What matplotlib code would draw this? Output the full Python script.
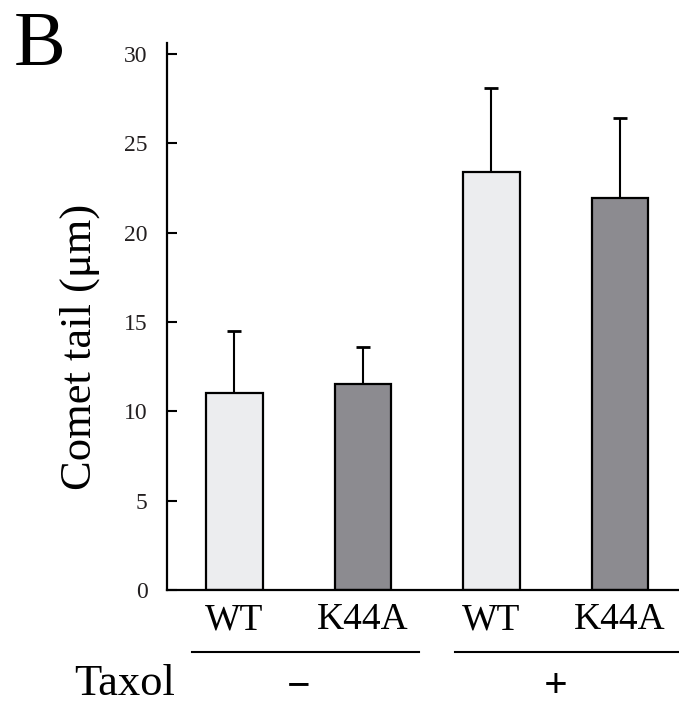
import matplotlib
matplotlib.use('Agg')
import matplotlib.pyplot as plt
import matplotlib.transforms as mtransforms
import numpy as np

plt.rcParams['font.family'] = ['Liberation Serif', 'DejaVu Serif']

# data
labels = ['WT', 'K44A', 'WT', 'K44A']
values = [11.0, 11.55, 23.4, 21.95]
errors = [3.5, 2.05, 4.7, 4.45]
colors = ['#ECEDEF', '#8C8B90', '#ECEDEF', '#8C8B90']
groups = ['\u2212', '+']
y_ticks = [0, 5, 10, 15, 20, 25, 30]

fig = plt.figure(figsize=(6.79, 7.05), dpi=100)
ax = fig.add_axes([0.246, 0.163, 0.754, 0.776])

x = np.arange(len(values))
ax.bar(x, values, width=0.44, color=colors, edgecolor='black', linewidth=1.6, zorder=2)
ax.errorbar(x, values, yerr=[np.zeros(len(errors)), errors], fmt='none',
            ecolor='black', elinewidth=1.5, capsize=5, capthick=2, zorder=1)

ax.set_xlim(-0.525, 3.46)
ax.set_ylim(0, 30.6)
ax.set_yticks(y_ticks)
ax.set_yticklabels([str(t) for t in y_ticks], fontsize=17, color='#231f20')
ax.tick_params(axis='y', direction='in', length=7, width=1.5, pad=14)
ax.set_xticks(x)
ax.set_xticklabels(labels, fontsize=27)
ax.tick_params(axis='x', length=0, pad=9)

for side in ['top', 'right']:
    ax.spines[side].set_visible(False)
for side in ['left', 'bottom']:
    ax.spines[side].set_linewidth(1.6)

ax.set_ylabel('Comet tail (\u03bcm)', fontsize=32, va='center')
ax.yaxis.set_label_coords(-0.17, 0.444)

# group underlines and Taxol row
trans = mtransforms.blended_transform_factory(ax.transData, fig.transFigure)
spans = [(x[0] - 0.33, x[1] + 0.44), (x[2] - 0.28, x[3] + 0.5)]
for (a, b), g, c in zip(spans, groups, [x[0:2].mean(), x[2:4].mean()]):
    ax.plot([a, b], [0.075, 0.075], transform=trans, color='black',
            linewidth=1.5, clip_on=False)
    ax.text(c, 0.026, g, transform=trans, ha='center', va='center',
            fontsize=30, fontweight='bold')

fig.text(0.184, 0.0145, 'Taxol', ha='center', va='baseline', fontsize=32)
fig.text(0.02, 0.908, 'B', ha='left', va='baseline', fontsize=56)

fig.savefig('out.png', dpi=100)
